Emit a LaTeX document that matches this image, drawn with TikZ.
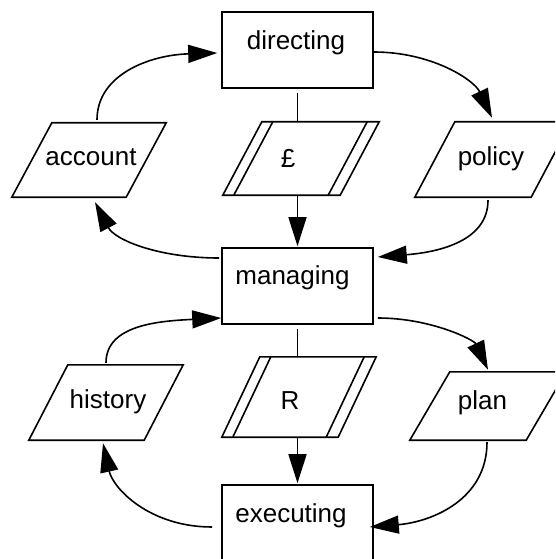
\documentclass[tikz,border=0pt]{standalone}
\usepackage{fontspec}
\setmainfont{Liberation Sans}
\usetikzlibrary{arrows.meta,calc}
\tikzset{
  boxshape/.style={draw=black, line width=1.6pt, inner sep=0pt, minimum width=151pt, minimum height=76pt},
  para/.style={inner sep=0pt},
  shapeline/.style={draw=black, line width=1.6pt},
  plain/.style={draw=black, line width=1.6pt},
  arr/.style={draw=black, line width=1.6pt, -{Triangle[length=29pt,width=18pt]}},
  lbl/.style={anchor=base, inner sep=0pt, font=\fontsize{26}{31}\selectfont}
}
\newcommand\paradraw[2]{\draw[shapeline] ([xshift=#2pt]#1.north west) -- (#1.north east) -- ([xshift=-#2pt]#1.south east) -- (#1.south west) -- cycle;}
\newcommand\paradouble[2]{%
  \draw[shapeline] ([xshift=#2pt+11pt]#1.north west) -- ([xshift=11pt]#1.south west);
  \draw[shapeline] ([xshift=-12pt]#1.north east) -- ([xshift=-#2pt-12pt]#1.south east);}
\begin{document}
\begin{tikzpicture}[x=1pt,y=-1pt]
\useasboundingbox (0,0) rectangle (555,559);
\clip (0,0) rectangle (555,559);

% boxes
\node[boxshape] (directing) at (297.5,50) {};
\node[boxshape] (managing) at (297.5,286) {};
\node[boxshape] (executing) at (297.5,523) {};
\node[lbl] (tdirecting) at (296,49.5) {directing};
\node[lbl] (tmanaging) at (292.5,284) {managing};
\node[lbl] (texecuting) at (291,522) {executing};

% parallelograms
\node[para, minimum width=154pt, minimum height=74pt] (account) at (89,160) {};
\node[para, minimum width=156pt, minimum height=73pt] (pound) at (301,158.5) {};
\node[para, minimum width=156pt, minimum height=75pt] (policy) at (493,159.5) {};
\node[para, minimum width=154pt, minimum height=75pt] (history) at (106,402.5) {};
\node[para, minimum width=154pt, minimum height=80pt] (rnode) at (299,397) {};
\node[para, minimum width=156pt, minimum height=68pt] (plan) at (488,406) {};

\paradraw{account}{40}
\paradraw{pound}{39}
\paradouble{pound}{39}
\paradraw{policy}{40}
\paradraw{history}{39}
\paradraw{rnode}{38}
\paradouble{rnode}{38}
\paradraw{plan}{40}

\node[lbl] (taccount) at (91,165) {account};
\node[lbl] (tpound) at (288,167) {£};
\node[lbl] (tpolicy) at (491,165) {policy};
\node[lbl] (thistory) at (108,408) {history};
\node[lbl] (tr) at (290,409) {R};
\node[lbl] (tplan) at (482.5,409) {plan};

% connectors, upper loop
\draw[arr] ($(account.north)+(8,-3)$) .. controls +(0,-45) and +(-68,2) .. ($(directing.west)+(-4,3)$);
\draw[arr] ($(directing.east)+(0,2)$) .. controls +(58,0) and +(-18,-38) .. ($(policy.north)+(-1,-4)$);
\draw[arr] ($(policy.south)+(-5,3)$) .. controls +(0,40) and +(63,-5) .. ($(managing.east)+(4,-29)$);
\draw[arr] ($(managing.west)+(-2,-28)$) .. controls +(-60,0) and +(20,38) .. ($(account.south)+(6,5)$);
\draw[plain] ([yshift=-4pt]directing.south) -- (directing.south |- pound.north);
\draw[arr] (pound.south -| managing.north) -- ($(managing.north)+(0,-1)$);

% connectors, lower loop
\draw[arr] ($(history.north)+(0,-2)$) .. controls +(0,-38) and +(-62,3) .. ($(managing.west)+(0,32)$);
\draw[arr] ($(managing.east)+(4,32)$) .. controls +(53,0) and +(-14,-30) .. ($(plan.north)+(0,-2)$);
\draw[arr] ($(plan.south)+(-1,2)$) .. controls +(0,58) and +(61,-5) .. ($(executing.east)+(-4,4)$);
\draw[arr] ($(executing.west)+(-9,4)$) .. controls +(-63,0) and +(10,45) .. ($(history.south)+(-3,3)$);
\draw[plain] ([yshift=-4pt]managing.south) -- (managing.south |- rnode.north);
\draw[arr] (rnode.south -| executing.north) -- ($(executing.north)+(0,-1)$);
\end{tikzpicture}
\end{document}
